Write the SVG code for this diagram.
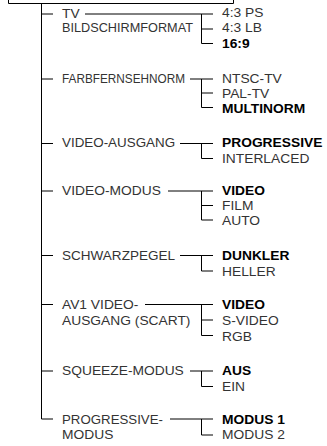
<svg xmlns="http://www.w3.org/2000/svg" width="327" height="446" viewBox="0 0 327 446">
<style>
text{font-family:"Liberation Sans",Arial,sans-serif;font-size:12px;fill:#333;}
.b{font-weight:bold;fill:#000;}
.ln{stroke:#000;stroke-width:1;fill:none;}
</style>
<rect width="327" height="446" fill="#fff"/>
<g id="menu-box"><path class="ln" d="M8.5,-1 V3.5 H233.5 V-1"/></g>
<g id="connectors">
<path class="ln" d="M41.5,3.5 V419 H53"/>
<path class="ln" d="M41.5,14 H53 M85,14 H213 M201.5,14 V43.5 H213 M201.5,29 H213"/>
<path class="ln" d="M41.5,79 H53 M190,79 H213 M201.5,79 V107.5 H213 M201.5,93 H213"/>
<path class="ln" d="M41.5,143.5 H53 M180,143.5 H213 M201.5,143.5 V158.5 H213"/>
<path class="ln" d="M41.5,191 H53 M168,191 H213 M201.5,191 V220 H213 M201.5,205.5 H213"/>
<path class="ln" d="M41.5,255.5 H53 M180,255.5 H213 M201.5,255.5 V271 H213"/>
<path class="ln" d="M41.5,304.5 H53 M145,304.5 H213 M201.5,304.5 V335.5 H213 M201.5,320 H213"/>
<path class="ln" d="M41.5,371 H53 M190,371 H213 M201.5,371 V386.5 H213"/>
<path class="ln" d="M170,419 H213 M201.5,419 V435 H213"/>
</g>
<g id="tv-format">
<g transform="translate(62 0) scale(1.15 1)"><text y="18.3">TV</text><text y="32.3" textLength="113.9" lengthAdjust="spacingAndGlyphs">BILDSCHIRMFORMAT</text></g>
<g transform="translate(222 0) scale(1.15 1)"><text y="17.3">4:3 PS</text><text y="32.3">4:3 LB</text><text class="b" y="48">16:9</text></g></g>
<g id="farbfernsehnorm">
<g transform="translate(62 0) scale(1.15 1)"><text y="82.7" textLength="107" lengthAdjust="spacingAndGlyphs">FARBFERNSEHNORM</text></g>
<g transform="translate(222 0) scale(1.15 1)"><text y="82.7">NTSC-TV</text><text y="97.7">PAL-TV</text><text class="b" y="113">MULTINORM</text></g></g>
<g id="video-ausgang">
<g transform="translate(62 0) scale(1.15 1)"><text y="147.5" textLength="98.3" lengthAdjust="spacingAndGlyphs">VIDEO-AUSGANG</text></g>
<g transform="translate(222 0) scale(1.15 1)"><text class="b" y="147.5">PROGRESSIVE</text><text y="163">INTERLACED</text></g></g>
<g id="video-modus">
<g transform="translate(62 0) scale(1.15 1)"><text y="195.5">VIDEO-MODUS</text></g>
<g transform="translate(222 0) scale(1.15 1)"><text class="b" y="195.5">VIDEO</text><text y="210.5">FILM</text><text y="225">AUTO</text></g></g>
<g id="schwarzpegel">
<g transform="translate(62 0) scale(1.15 1)"><text y="260" textLength="98.3" lengthAdjust="spacingAndGlyphs">SCHWARZPEGEL</text></g>
<g transform="translate(222 0) scale(1.15 1)"><text class="b" y="260">DUNKLER</text><text y="276">HELLER</text></g></g>
<g id="av1">
<g transform="translate(62 0) scale(1.15 1)"><text y="309.5">AV1 VIDEO-</text><text y="325.5">AUSGANG (SCART)</text></g>
<g transform="translate(222 0) scale(1.15 1)"><text class="b" y="309.5">VIDEO</text><text y="325.5">S-VIDEO</text><text y="341">RGB</text></g></g>
<g id="squeeze">
<g transform="translate(62 0) scale(1.15 1)"><text y="375.5">SQUEEZE-MODUS</text></g>
<g transform="translate(222 0) scale(1.15 1)"><text class="b" y="375.5">AUS</text><text y="391">EIN</text></g></g>
<g id="progressive-modus">
<g transform="translate(62 0) scale(1.15 1)"><text y="424" textLength="87.8" lengthAdjust="spacingAndGlyphs">PROGRESSIVE-</text><text y="439.5">MODUS</text></g>
<g transform="translate(222 0) scale(1.15 1)"><text class="b" y="424">MODUS 1</text><text y="439.5">MODUS 2</text></g></g>
</svg>
